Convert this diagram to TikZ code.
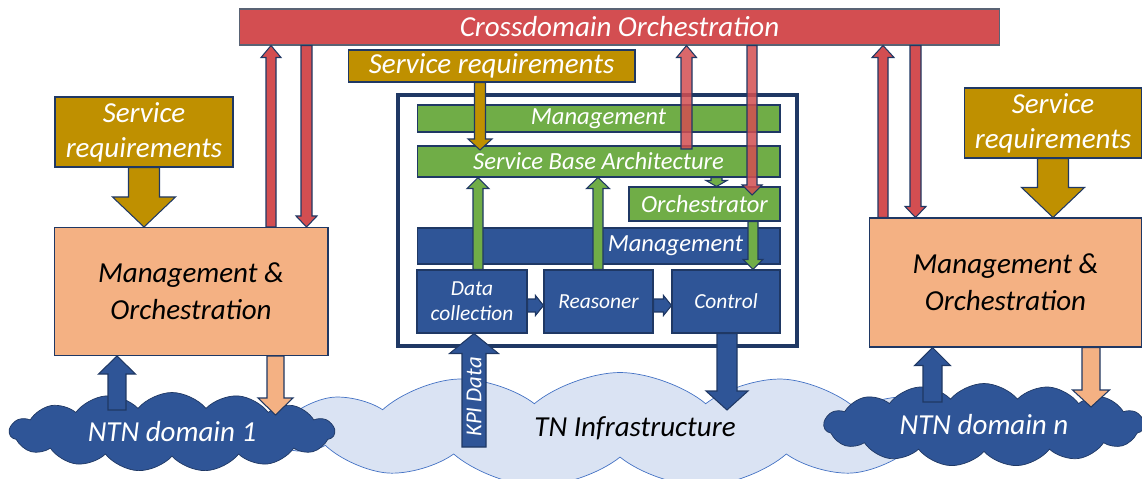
\documentclass[tikz,border=0pt]{standalone}
\usepackage{fontspec}
\setmainfont{Carlito}
\usetikzlibrary{calc,shapes.symbols}
\definecolor{crossred}{HTML}{D34E51}
\definecolor{reqgold}{HTML}{BF9000}
\definecolor{mopeach}{HTML}{F4B183}
\definecolor{sbagreen}{HTML}{70AD47}
\definecolor{tnblue}{HTML}{2F5597}
\definecolor{skyblue}{HTML}{DAE3F3}
\definecolor{navy}{HTML}{1F3864}
\definecolor{edgeblue}{HTML}{4472C4}
\tikzset{gbox/.style={
    rectangle,
    draw=navy,
    line width=0.6pt,
    inner sep=0pt,
    align=center,
    font=\itshape\fontsize{16.5}{19.8}\selectfont
  },
  crossbox/.style={gbox,fill=crossred,text=white,draw=gray!60!navy},
  reqbox/.style={gbox,fill=reqgold,text=white},
  mobox/.style={gbox,fill=mopeach,text=black,font=\itshape\fontsize{16.5}{21}\selectfont},
  greenbox/.style={gbox,fill=sbagreen,text=white,font=\itshape\fontsize{14}{17}\selectfont},
  bluebox/.style={gbox,fill=tnblue,text=white,font=\itshape\fontsize{14}{17}\selectfont},
  funcbox/.style={bluebox,font=\itshape\fontsize{12.2}{14.2}\selectfont},
  framebox/.style={rectangle,draw=navy,line width=1.8pt,fill=white},
  ntncloud/.style={cloud,cloud puffs=15,cloud puff arc=100,cloud ignores aspect,draw=navy,fill=tnblue,
    text=white,font=\itshape\fontsize{16.5}{19.8}\selectfont},
  tncloud/.style={cloud,cloud puffs=13,cloud puff arc=80,cloud ignores aspect,draw=edgeblue,
    fill=skyblue,text=black,font=\itshape\fontsize{16.5}{19.8}\selectfont},
  redarrow/.style={fill=crossred,draw=navy,line width=0.6pt},
  midredarrow/.style={redarrow,fill opacity=0.85},
  goldarrow/.style={fill=reqgold,draw=navy,line width=0.6pt},
  greenarrow/.style={fill=sbagreen,draw=navy,line width=0.6pt},
  bluearrow/.style={fill=tnblue,draw=navy,line width=0.6pt},
  peacharrow/.style={fill=mopeach,draw=navy,line width=0.6pt},
}
% block arrow: [style]{from}{to}{half shaft}{half head}{head length}
\newcommand{\blockarrow}[6][]{%
  \coordinate (ba-h) at ($#3!#6!#2$);
  \draw[#1] ($#2!#4!90:#3$) -- ($(ba-h)!#4!90:#3$) -- ($(ba-h)!#5!90:#3$) -- #3
    -- ($(ba-h)!#5!-90:#3$) -- ($(ba-h)!#4!-90:#3$) -- ($#2!#4!-90:#3$) -- cycle;
}

\begin{document}
\begin{tikzpicture}[x=0.02cm,y=-0.02cm]
  \path[use as bounding box,clip] (0,0) rectangle (1142,479);

  % clouds
  \node[tncloud,minimum width=14cm,minimum height=2.3cm] (tn) at (620,430) {};
  \node[font=\itshape\fontsize{16.5}{19.8}\selectfont] (tnlbl) at (635,428) {TN Infrastructure};
  \node[ntncloud,minimum width=6.5cm,minimum height=1.58cm] (ntn1) at (172,432) {NTN domain 1};
  \node[ntncloud,minimum width=6.4cm,minimum height=1.66cm] (ntnn) at (984,425) {NTN domain n};

  % boxes
  \node[crossbox,minimum width=15.22cm,minimum height=0.72cm] (cross) at (619.5,27) {Crossdomain Orchestration};
  \node[reqbox,minimum width=5.74cm,minimum height=0.64cm] (srtop) at (491.5,66) {Service requirements};
  \node[reqbox,minimum width=3.56cm,minimum height=1.4cm] (srl) at (144,132) {Service\\requirements};
  \node[reqbox,minimum width=3.56cm,minimum height=1.4cm] (srr) at (1053,123) {Service\\requirements};
  \node[mobox,minimum width=5.48cm,minimum height=2.56cm] (lmo) at (191,291.5) {Management \&\\Orchestration};
  \node[mobox,minimum width=5.46cm,minimum height=2.58cm] (rmo) at (1005.5,282.5) {Management \&\\Orchestration};

  % domain controller
  \node[framebox,minimum width=7.98cm,minimum height=5.02cm] (frame) at (597.5,220.5) {};
  \node[greenbox,minimum width=7.26cm,minimum height=0.54cm] (mg) at (598.5,118.5) {Management};
  \node[greenbox,minimum width=7.26cm,minimum height=0.62cm] (sba) at (598.5,161.5) {Service Base Architecture};
  \node[greenbox,minimum width=3.02cm,minimum height=0.68cm] (orch) at (704.5,204) {Orchestrator};
  \node[bluebox,minimum width=7.26cm,minimum height=0.72cm,inner xsep=0.74cm,text width=5.78cm,align=right] (mb) at (598.5,246) {Management};
  \node[funcbox,minimum width=2.2cm,minimum height=1.26cm] (dc) at (472,301.5) {Data\\collection};
  \node[funcbox,minimum width=2.18cm,minimum height=1.26cm] (rs) at (598.5,301.5) {Reasoner};
  \node[funcbox,minimum width=2.16cm,minimum height=1.26cm] (ctl) at (726,301.5) {Control};

  \coordinate (sbain) at (686.5,149);
  \coordinate (orchin) at (752,195);
  \coordinate (sbagold) at (480,150);
  \coordinate (kpi) at (474,447);
  \coordinate (ctltip) at (727,410);
  \coordinate (ntn1up) at (117,410);
  \coordinate (ntn1dn) at (275.5,415);
  \coordinate (ntnnup) at (932.5,402);
  \coordinate (ntnndn) at (1091,407);

  % arrows
  \blockarrow[goldarrow]{(srl.south)}{(srl.south |- lmo.north)}{0.31cm}{0.63cm}{0.6cm}
  \blockarrow[goldarrow]{(srr.south)}{(srr.south |- rmo.north)}{0.31cm}{0.63cm}{0.6cm}
  \blockarrow[redarrow]{(271,0 |- lmo.north)}{(271,0 |- cross.south)}{0.1cm}{0.2cm}{0.24cm}
  \blockarrow[redarrow]{(306.5,0 |- cross.south)}{(306.5,0 |- lmo.north)}{0.11cm}{0.21cm}{0.22cm}
  \blockarrow[redarrow]{(883,0 |- rmo.north)}{(883,0 |- cross.south)}{0.1cm}{0.22cm}{0.24cm}
  \blockarrow[redarrow]{(915.5,0 |- cross.south)}{(915.5,0 |- rmo.north)}{0.11cm}{0.21cm}{0.22cm}
  \blockarrow[goldarrow]{(480,0 |- srtop.south)}{(sbagold)}{0.11cm}{0.24cm}{0.22cm}
  \blockarrow[greenarrow]{(478,0 |- dc.north)}{(478,0 |- sba.south)}{0.1cm}{0.22cm}{0.22cm}
  \blockarrow[greenarrow]{(598,0 |- rs.north)}{(598,0 |- sba.south)}{0.1cm}{0.23cm}{0.22cm}
  \blockarrow[greenarrow]{(716.5,0 |- sba.south)}{(716.5,0 |- orch.north)}{0.11cm}{0.21cm}{0.12cm}
  \blockarrow[greenarrow]{(753,0 |- orch.south)}{(753,0 |- ctl.north)}{0.1cm}{0.2cm}{0.2cm}
  \blockarrow[midredarrow]{(sbain)}{(686.5,0 |- cross.south)}{0.11cm}{0.2cm}{0.24cm}
  \blockarrow[midredarrow]{(752,0 |- cross.south)}{(orchin)}{0.1cm}{0.2cm}{0.2cm}
  \blockarrow[bluearrow]{(dc.east |- 0,305.5)}{(rs.west |- 0,305.5)}{0.13cm}{0.2cm}{0.16cm}
  \blockarrow[bluearrow]{(rs.east |- 0,305.5)}{(ctl.west |- 0,305.5)}{0.13cm}{0.2cm}{0.16cm}
  \blockarrow[bluearrow]{(kpi)}{(474,0 |- dc.south)}{0.24cm}{0.49cm}{0.4cm}
  \node[rotate=90,text=white,font=\itshape\fontsize{13}{15}\selectfont] (kpilbl) at (474,397) {KPI Data};
  \blockarrow[bluearrow]{(727,0 |- ctl.south)}{(ctltip)}{0.2cm}{0.42cm}{0.38cm}
  \blockarrow[bluearrow]{(ntn1up)}{(117,0 |- lmo.south)}{0.18cm}{0.37cm}{0.36cm}
  \blockarrow[peacharrow]{(275.5,0 |- lmo.south)}{(ntn1dn)}{0.17cm}{0.35cm}{0.34cm}
  \blockarrow[bluearrow]{(ntnnup)}{(932.5,0 |- rmo.south)}{0.19cm}{0.36cm}{0.36cm}
  \blockarrow[peacharrow]{(1091,0 |- rmo.south)}{(ntnndn)}{0.18cm}{0.37cm}{0.34cm}
\end{tikzpicture}
\end{document}
